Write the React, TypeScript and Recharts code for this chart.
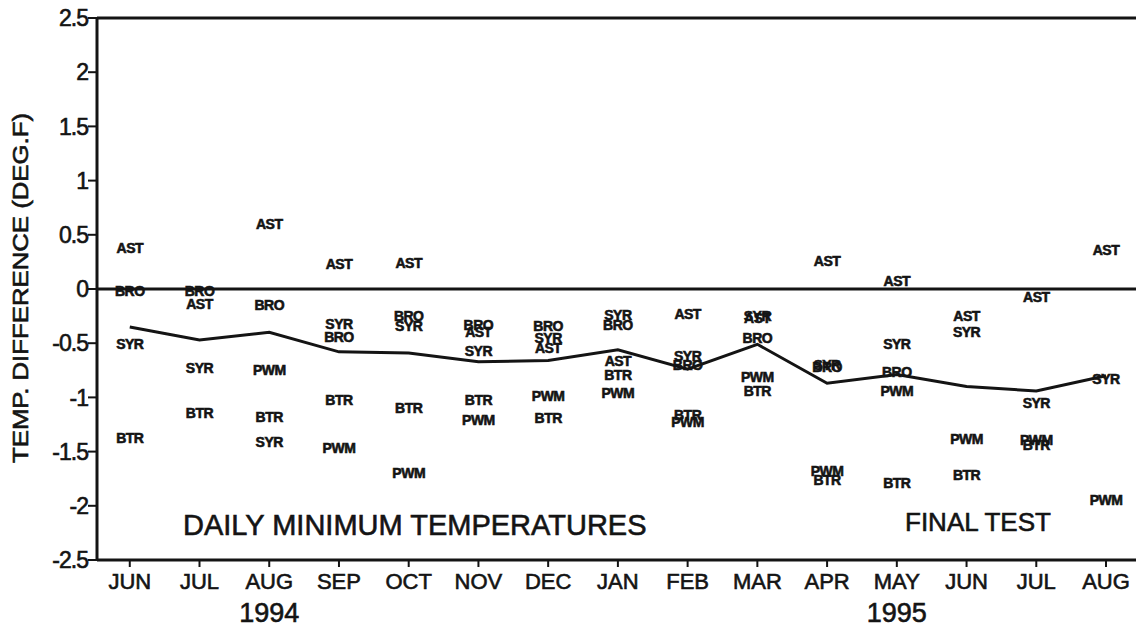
import {
  ComposedChart,
  Scatter,
  XAxis,
  YAxis,
  ReferenceLine,
  Customized
} from 'recharts';

const months = ['JUN', 'JUL', 'AUG', 'SEP', 'OCT', 'NOV', 'DEC', 'JAN', 'FEB', 'MAR', 'APR', 'MAY', 'JUN', 'JUL', 'AUG'];
const years: Record<number, string> = { 2: '1994', 11: '1995' };

const ast = [0.38, -0.14, 0.6, 0.23, 0.24, -0.4, -0.54, -0.66, -0.23, -0.27, 0.26, 0.07, -0.25, -0.07, 0.36];
const bro = [-0.02, -0.02, -0.15, -0.44, -0.25, -0.33, -0.34, -0.33, -0.7, -0.45, -0.72, -0.77, null, null, null];
const syr = [-0.51, -0.73, -1.41, -0.32, -0.34, -0.57, -0.45, -0.24, -0.62, -0.25, -0.7, -0.51, -0.4, -1.05, -0.83];
const btr = [-1.37, -1.14, -1.18, -1.02, -1.1, -1.02, -1.19, -0.79, -1.16, -0.94, -1.76, -1.79, -1.72, -1.44, null];
const pwm = [null, null, -0.75, -1.47, -1.7, -1.21, -0.99, -0.96, -1.23, -0.81, -1.68, -0.94, -1.38, -1.39, -1.95];
const mean = [-0.35, -0.47, -0.4, -0.58, -0.59, -0.67, -0.66, -0.56, -0.74, -0.51, -0.87, -0.79, -0.9, -0.94, -0.8];

const yTicks = [-2.5, -2, -1.5, -1, -0.5, 0, 0.5, 1, 1.5, 2, 2.5];

const INK = '#141414';
const FONT = '"Liberation Sans", Arial, Helvetica, sans-serif';

const stations: { name: string; values: (number | null)[] }[] = [
  { name: 'AST', values: ast },
  { name: 'BRO', values: bro },
  { name: 'SYR', values: syr },
  { name: 'BTR', values: btr },
  { name: 'PWM', values: pwm }
];

function toPoints(name: string, values: (number | null)[]) {
  return values
    .map((v, i) => (v === null ? null : { x: i, y: v, name }))
    .filter(p => p !== null);
}

const meanPoints = mean.map((v, i) => ({ x: i, y: v }));

// scanned print look: a thin outline fattens the glyphs a little
const heavy = { stroke: INK, strokeWidth: 0.6 };

function StationLabel(props: any) {
  const { cx, cy, payload } = props;
  return (
    <text
      x={cx}
      y={cy}
      textAnchor="middle"
      dominantBaseline="central"
      fontFamily={FONT}
      fontWeight="bold"
      fontSize={14}
      letterSpacing={-0.5}
      fill={INK}
      {...heavy}
    >
      {payload.name}
    </text>
  );
}

function MonthTick(props: any) {
  const { x, y, payload, index } = props;
  const year = years[index];
  return (
    <g>
      <text x={x} y={y + 20} textAnchor="middle" fontFamily={FONT} fontSize={22} fill={INK} {...heavy}>
        {months[payload.value]}
      </text>
      {year && (
        <text x={x} y={y + 53} textAnchor="middle" fontFamily={FONT} fontSize={27} fill={INK} {...heavy}>
          {year}
        </text>
      )}
    </g>
  );
}

function Annotations() {
  return (
    <g fill={INK} fontFamily={FONT} {...heavy}>
      <text
        x={20}
        y={288}
        transform="rotate(-90 20 288)"
        textAnchor="middle"
        dominantBaseline="central"
        fontSize={22}
        textLength={350}
        lengthAdjust="spacingAndGlyphs"
      >
        TEMP. DIFFERENCE (DEG.F)
      </text>
      <text x={183} y={535} fontSize={29}>
        DAILY MINIMUM TEMPERATURES
      </text>
      <text x={905} y={531} fontSize={26}>
        FINAL TEST
      </text>
    </g>
  );
}

function App() {
  return (
    <div style={{ position: 'absolute', left: 0, top: 0, background: '#fff' }}>
      <ComposedChart width={1136} height={627} margin={{ top: 18, right: 0, bottom: 0, left: 0 }}>
        <XAxis
          type="number"
          dataKey="x"
          domain={[-0.47, 14.43]}
          ticks={months.map((_, i) => i)}
          interval={0}
          height={67}
          axisLine={{ stroke: INK, strokeWidth: 3 }}
          tickLine={{ stroke: INK, strokeWidth: 2 }}
          tickSize={7}
          tickMargin={2}
          tick={<MonthTick />}
          allowDataOverflow
        />
        <YAxis
          type="number"
          dataKey="y"
          domain={[-2.5, 2.5]}
          ticks={yTicks}
          interval={0}
          width={97}
          axisLine={{ stroke: INK, strokeWidth: 3 }}
          tickLine={{ stroke: INK, strokeWidth: 2 }}
          tickSize={9}
          tickMargin={0}
          tick={{ fill: INK, fontSize: 23, fontFamily: FONT, letterSpacing: -1, stroke: INK, strokeWidth: 0.6 }}
          tickFormatter={v => String(v)}
          allowDataOverflow
        />
        <ReferenceLine y={2.5} stroke={INK} strokeWidth={3} ifOverflow="visible" />
        <ReferenceLine y={0} stroke={INK} strokeWidth={3} />
        <Scatter
          data={meanPoints}
          line={{ stroke: INK, strokeWidth: 3 }}
          lineType="joint"
          shape={() => <g />}
          isAnimationActive={false}
        />
        {stations.map(s => (
          <Scatter
            key={s.name}
            name={s.name}
            data={toPoints(s.name, s.values)}
            shape={<StationLabel />}
            isAnimationActive={false}
          />
        ))}
        <Customized component={<Annotations />} />
      </ComposedChart>
    </div>
  );
}

export default App;
